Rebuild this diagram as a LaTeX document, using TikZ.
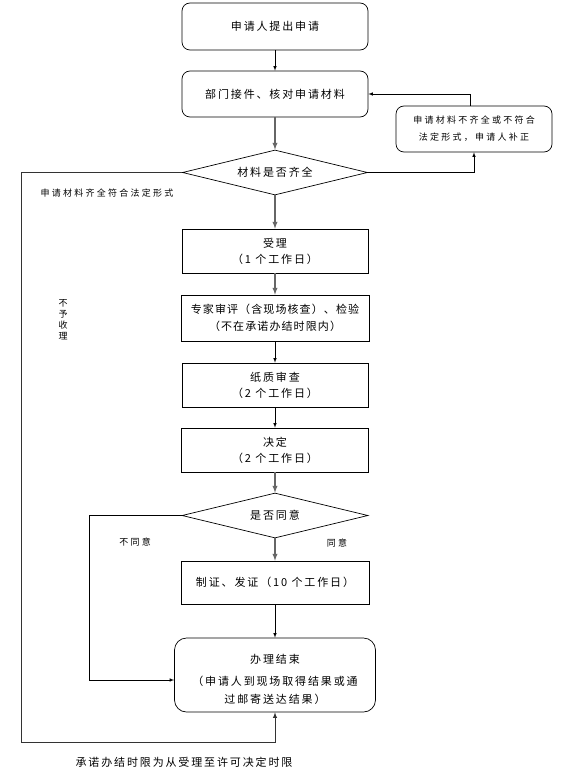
\documentclass[tikz,border=0pt]{standalone}
\usepackage{fontspec}
\setmainfont{Noto Sans CJK SC}[LetterSpace=17]
\newfontfamily\smallcjk{Noto Sans CJK SC}[LetterSpace=25]
\usetikzlibrary{arrows,calc,shapes.geometric}

\begin{document}
\begin{tikzpicture}[x=1pt,y=-1pt,
  box/.style={draw,line width=0.7pt,inner sep=0pt,align=center,font=\fontsize{11}{16}\selectfont},
  rbox/.style={box,rounded corners=8pt},
  dbox/.style={box,diamond,aspect=4},
  line/.style={line width=0.6pt,-latex},
  gline/.style={line width=1.3pt,black!60,-latex},
  note/.style={font=\smallcjk\fontsize{9}{11}\selectfont,align=center}]
\useasboundingbox (0,0) rectangle (577,770);
\node[rbox,minimum width=186pt,minimum height=47pt] (apply) at (275,26.5) {申请人提出申请};
\node[rbox,minimum width=186pt,minimum height=46pt] (check) at (275,94) {部门接件、核对申请材料};
\node[rbox,minimum width=156pt,minimum height=46pt,font=\smallcjk\fontsize{9}{17}\selectfont] (patch) at (474,129) {申请材料不齐全或不符合\\法定形式，申请人补正};
\node[dbox,minimum width=185pt,minimum height=45pt] (full) at (275,172.5) {材料是否齐全};
\node[box,minimum width=186pt,minimum height=44pt] (accept) at (275,251) {受理\\（1 个工作日）};
\node[box,minimum width=188pt,minimum height=46pt,font=\fontsize{11}{17}\selectfont\addfontfeature{LetterSpace=10}] (review) at (275,318) {专家审评（含现场核查）、检验\\（不在承诺办结时限内）};
\node[box,minimum width=186pt,minimum height=44pt] (paper) at (275,385) {纸质审查\\（2 个工作日）};
\node[box,minimum width=187pt,minimum height=44pt] (decide) at (275,450) {决定\\（2 个工作日）};
\node[dbox,minimum width=186pt,minimum height=45pt] (agree) at (275,515.5) {是否同意};
\node[box,minimum width=188pt,minimum height=43pt] (issue) at (275,582.5) {制证、发证（10 个工作日）};
\node[rbox,rounded corners=12pt,minimum width=201pt,minimum height=74pt,font=\fontsize{11}{18}\selectfont] (finish) at (275,675) {{\vrule height 18pt width 0pt}办理结束\\[4pt]（申请人到现场取得结果或通\\过邮寄送达结果）};
% labels
\node[note] (okay) at (107,193) {申请材料齐全符合法定形式};
\node[note] (reject) at (63,320) {不\\予\\收\\理};
\node[note] (nolab) at (135,542) {不同意};
\node[note] (yeslab) at (337,543) {同意};
\node[font=\fontsize{11}{13}\selectfont] (limit) at (184,762) {承诺办结时限为从受理至许可决定时限};
% connectors
\draw[line] (apply) -- (check);
\draw[gline] (check) -- (full);
\draw[gline] (full) -- (accept);
\draw[gline] (accept) -- (review);
\draw[line] (review) -- (paper);
\draw[line] (paper) -- (decide);
\draw[gline] (decide) -- (agree);
\draw[gline] (agree) -- (issue);
\draw[line] (issue) -- (finish);
\draw[line] (full.east) -| (patch.south);
\draw[line] ([xshift=-4pt]patch.north) |- (check.east);
\coordinate (corner) at (21,742);
\draw[line,line width=0.9pt,black!80] (full.west) -| (corner) -| (finish.south);
\coordinate (back) at (89,680);
\draw[line] (agree.west) -| (back) -- (back -| finish.west);
\end{tikzpicture}
\end{document}
